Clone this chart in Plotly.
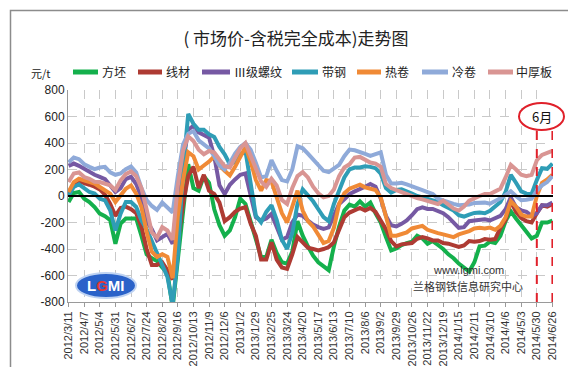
import plotly.graph_objects as go
import pandas as pd

# ---------------- data ----------------
start_date = "2012-03-11"
n_points = 94
dates = pd.date_range(start_date, periods=n_points, freq="9D")

tick_labels = ["2012/3/11", "2012/4/7", "2012/5/4", "2012/5/31", "2012/6/27", "2012/7/24",
               "2012/8/20", "2012/9/16", "2012/10/13", "2012/11/9", "2012/12/6", "2013/1/2",
               "2013/1/29", "2013/2/25", "2013/3/24", "2013/4/20", "2013/5/17", "2013/6/13",
               "2013/7/10", "2013/8/6", "2013/9/2", "2013/9/29", "2013/10/26", "2013/11/22",
               "2013/12/19", "2014/1/15", "2014/2/11", "2014/3/10", "2014/4/6", "2014/5/3",
               "2014/5/30", "2014/6/26"]

fangpi = [-45, 23, 30, -20, -45, -83, -133, -153, -183, -360, -208, -170, -170, -170, -300, -440,
          -470, -490, -540, -580, -840, -480, -100, 240, 60, 40, 150, 100, -100, -220, -300,
          -260, -160, -20, -60, -200, -320, -460, -460, -330, -430, -500, -510, -420, -190, -300, -380,
          -450, -500, -535, -560, -380, -230, -110, -65, -80, -40, -80, -50, -130, -200, -310,
          -410, -395, -370, -355, -345, -300, -320, -360, -340, -370, -400, -440, -470, -510, -540,
          -570, -500, -380, -375, -345, -355, -300, -190, -115, -170, -215, -270, -320, -300, -200, -200, -185]

xiancai = [20, 90, 110, 100, 85, 70, 50, 10, -60, -150, -90, -80, -100, -130, -230, -400,
           -520, -520, -500, -560, -630, -350, -60, 150, 220, 60, 160, 40, 15, -50, -190,
           -160, -120, -95, -85, -210, -300, -480, -480, -350, -480, -540, -550, -440, -310, -350, -390,
           -400, -410, -400, -385, -350, -260, -160, -125, -110, -90, -110, -90, -120, -190, -250,
           -340, -380, -365, -360, -355, -323, -310, -320, -335, -335, -355, -360, -370, -385, -373,
           -340, -345, -340, -325, -330, -325, -240, -180, -40, -120, -165, -190, -200, -130, -70, -80, -60]

luowen = [228, 245, 228, 203, 178, 160, 145, 128, 80, 30, 60, 128, 145, 90, -10, -190,
          -250, -335, -310, -285, -360, 0, 250, 500, 530, 480, 460, 440, 300, 80, 15,
          85, 125, 160, 170, -10, -160, -185, -170, -135, -230, -330, -310, -200, -140, -150, -185,
          -215, -235, -248, -237, -150, -60, -25, 15, 35, 50, 70, 90, 70, -20, -150,
          -220, -230, -210, -185, -145, -100, -85, -98, -98, -115, -130, -160, -205, -240, -235,
          -190, -185, -180, -175, -185, -165, -150, -100, -10, -85, -108, -120, -150, -130, -70, -70, -50]

daigang = [5, 68, 88, 55, 30, 18, -20, -33, -108, -260, -133, -45, -45, -83, -183, -250,
           -340, -435, -530, -610, -820, -450, 200, 620, 545, 500, 500, 465, 445, 370, 315,
           240, 260, 310, 340, 100, -150, -198, -120, -70, -180, -330, -400, -280, -60, 50, 10,
           -40, -100, -160, -190, -60, 40, 140, 200, 215, 215, 225, 220, 210, 170, 60,
           25, 45, 50, 30, 18, 0, -12, -22, -35, -45, -70, -90, -110, -145, -155,
           -140, -128, -125, -130, -112, -75, -45, 30, 160, 100, 35, 18, 15, 120, 210, 205, 245]

rejuan = [30, 105, 130, 118, 105, 93, 68, 43, 18, -45, 5, 55, 80, 18, -83, -270,
          -420, -460, -440, -460, -620, -150, 120, 330, 300, 200, 230, 260, 300, 230, 190,
          155, 220, 300, 370, 260, 120, 40, 120, 110, 0, -130, -200, -80, 40, -110, -190,
          -230, -300, -355, -340, -240, -60, 20, 55, 70, 85, 65, 55, 45, -10, -170,
          -300, -300, -285, -275, -245, -235, -225, -255, -270, -280, -290, -300, -310, -290, -280,
          -265, -245, -240, -245, -238, -255, -225, -160, -40, -80, -140, -155, -155, 0, 100, 125, 160]

lengjuan = [253, 290, 278, 240, 220, 203, 215, 220, 178, 160, 170, 203, 223, 178, 60, -30,
            -75, -105, -50, -85, -125, 150, 390, 470, 490, 420, 390, 360, 300, 230, 200,
            250, 320, 370, 400, 350, 250, 140, 150, 270, 190, 120, 110, 200, 375, 360, 320,
            280, 230, 190, 180, 205, 235, 300, 350, 345, 335, 318, 303, 320, 330, 160,
            95, 95, 100, 88, 75, 65, 45, 30, 15, -20, -35, -45, -60, -70, -70,
            -65, -52, -48, -50, -58, -42, -18, 8, 35, 0, -32, -28, -20, 40, 80, 105, 150]

zhonghouban = [105, 170, 178, 143, 130, 108, 105, 93, 80, 45, 118, 165, 185, 150, 60, -100,
               -275, -315, -235, -260, -330, 80, 340, 450, 415, 350, 315, 340, 328, 275, 225,
               215, 290, 360, 400, 300, 190, 110, 70, 130, 80, -30, -60, 60, 150, 180, 140,
               70, 20, -10, 0, 50, 150, 215, 240, 290, 295, 270, 253, 245, 220, 90,
               60, 45, 30, 15, -5, -15, -25, -35, -45, -60, -35, -65, -95, -110, -80,
               -35, -15, 0, 15, 15, 35, 55, 140, 235, 200, 160, 150, 160, 270, 310, 325, 340]

series_names = ["方坯", "线材", "Ⅲ级螺纹", "带钢", "热卷", "冷卷", "中厚板"]
series_values = [fangpi, xiancai, luowen, daigang, rejuan, lengjuan, zhonghouban]
series_colors = ["#14B04C", "#AE3B33", "#7659A3", "#2F9DB6", "#F08A36", "#8FAAD9", "#D99593"]

y_ticks = [-800, -600, -400, -200, 0, 200, 400, 600, 800]
june_marks = ["2014/5/30", "2014/6/26"]

# ---------------- figure ----------------
tick_dates = [pd.to_datetime(t, format="%Y/%m/%d") for t in tick_labels]
cjk = "Noto Sans CJK SC, Liberation Sans, sans-serif"
latin = "Liberation Sans, Arial, sans-serif"

fig = go.Figure()
for name, vals, col in zip(series_names, series_values, series_colors):
    fig.add_trace(go.Scatter(x=dates, y=vals, name=name, mode="lines",
                             line=dict(color=col, width=4), showlegend=False))

L, R, T, B = 60, 31, 82, 73
W, H = 576, 367
pw, ph = W - L - R, H - T - B


def px(xp):
    return (xp - L) / pw


def py(yp):
    return (H - B - yp) / ph


fig.update_layout(
    width=W, height=H,
    margin=dict(l=L, r=R, t=T, b=B, autoexpand=False),
    paper_bgcolor="white", plot_bgcolor="white",
    font=dict(family=cjk, color="#222222"),
    title=dict(text="( 市场价-含税完全成本)走势图", x=0.5, xanchor="center",
               y=1 - 31 / H, yanchor="middle",
               font=dict(size=17, color="#222222", family=cjk)),
    showlegend=False,
    xaxis=dict(
        range=[pd.to_datetime("2012-03-10"), pd.to_datetime("2014-06-27")],
        tickmode="array", tickvals=tick_dates, ticktext=tick_labels,
        tickangle=-90, tickfont=dict(size=11, color="#333333", family=latin),
        showgrid=True, gridcolor="#C9C9C9", griddash="dash", gridwidth=1,
        showline=True, linecolor="#9A9A9A", linewidth=1,
        ticks="outside", ticklen=4, tickcolor="#9A9A9A",
        zeroline=False, automargin=False,
    ),
    yaxis=dict(
        range=[-800, 800], tickmode="array", tickvals=y_ticks,
        ticktext=[str(v) for v in y_ticks],
        tickfont=dict(size=12, color="#222222", family=latin),
        showgrid=True, gridcolor="#C9C9C9", griddash="dash", gridwidth=1,
        showline=True, linecolor="#9A9A9A", linewidth=1,
        ticks="", zeroline=False, automargin=False,
    ),
)

shapes = []
# outer border
shapes.append(dict(type="rect", xref="paper", yref="paper",
                   x0=px(2.5), x1=px(573), y0=py(2.5), y1=py(364),
                   line=dict(color="#8C8C8C", width=1.5), fillcolor="rgba(0,0,0,0)", layer="below"))
# zero line on top
shapes.append(dict(type="line", xref="paper", yref="y", x0=0, x1=1, y0=0, y1=0,
                   line=dict(color="black", width=2), layer="above"))
# June dashed red lines
for d in june_marks:
    dd = pd.to_datetime(d, format="%Y/%m/%d")
    shapes.append(dict(type="line", xref="x", yref="paper", x0=dd, x1=dd,
                       y0=0, y1=py(122), line=dict(color="#E0202A", width=2, dash="dash"),
                       layer="above"))
# red ellipse
shapes.append(dict(type="circle", xref="paper", yref="paper",
                   x0=px(511), x1=px(556), y0=py(122), y1=py(95),
                   line=dict(color="#E0202A", width=2), fillcolor="white", layer="above"))
# logo ellipse
shapes.append(dict(type="circle", xref="paper", yref="paper",
                   x0=px(68), x1=px(128), y0=py(290), y1=py(265),
                   line=dict(color="#BFD3F2", width=2), fillcolor="#2A62C9", layer="above"))

# manual legend (line samples)
legend_line_x = [(65, 90), (130, 154), (194, 222), (284, 310), (349, 373), (414, 440), (480, 505)]
legend_text_x = [92, 156, 224, 312, 375, 442, 506]
legend_y = 64
for (x0, x1), col in zip(legend_line_x, series_colors):
    shapes.append(dict(type="line", xref="paper", yref="paper",
                       x0=px(x0), x1=px(x1), y0=py(legend_y), y1=py(legend_y),
                       line=dict(color=col, width=5), layer="above"))
fig.update_layout(shapes=shapes)


def note(text, x, y, size, family, color="#222222", xanchor="center", weight="normal"):
    return dict(text=text, xref="paper", yref="paper", x=px(x), y=py(y),
                xanchor=xanchor, yanchor="middle", showarrow=False,
                font=dict(size=size, family=family, color=color, weight=weight))


annotations = [
    note("元/t", 32, 65, 11, cjk),
    note("6月", 533.5, 108.5, 13, cjk, "#111111"),
    note('L<span style="color:#E53935">G</span>MI', 98, 277.5, 15, latin, "white", weight="bold"),
    note("www.lgmi.com", 460, 262, 11, latin, "#333333"),
    note("兰格钢铁信息研究中心", 460, 278, 11, cjk, "#333333"),
]
for name, tx in zip(series_names, legend_text_x):
    annotations.append(note(name, tx, legend_y, 12, cjk, xanchor="left"))
fig.update_layout(annotations=annotations)

fig.write_html("out.html")
